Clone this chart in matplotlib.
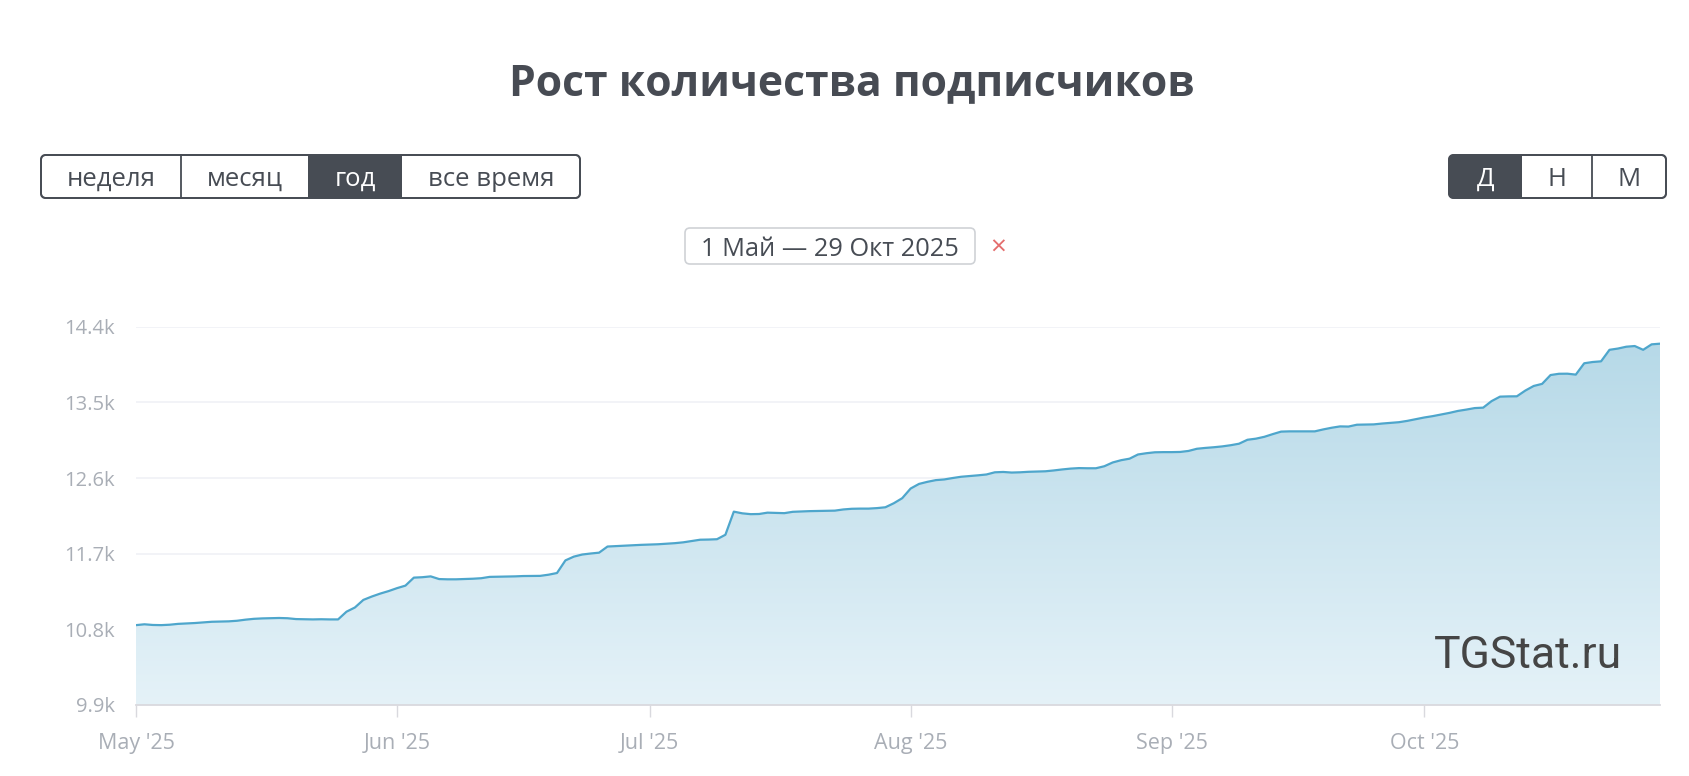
import numpy as np
import matplotlib
matplotlib.use("Agg")
import matplotlib.pyplot as plt
import matplotlib.dates as mdates
from matplotlib import font_manager
from matplotlib.patches import FancyBboxPatch, Rectangle
from matplotlib.ticker import FixedLocator, FixedFormatter

# ---------------- data ----------------
start_date = "2025-05-01"
end_date = "2025-10-29"

subscribers_may = [10850, 10860, 10852, 10850, 10855, 10865, 10870, 10875, 10882, 10890,
                   10892, 10895, 10902, 10915, 10925, 10930, 10932, 10935, 10932, 10922,
                   10920, 10918, 10920, 10918, 10918, 11010, 11060, 11150, 11190, 11225,
                   11255]
subscribers_jun = [11290, 11320, 11415, 11420, 11430, 11398, 11395, 11395, 11398, 11402,
                   11408, 11424, 11426, 11428, 11430, 11434, 11435, 11436, 11450, 11470,
                   11620, 11665, 11690, 11702, 11712, 11785, 11790, 11795, 11800, 11805]
subscribers_jul = [11808, 11812, 11818, 11825, 11835, 11850, 11866, 11868, 11872, 11925,
                   12200, 12180, 12170, 12172, 12188, 12185, 12182, 12198, 12202, 12206,
                   12208, 12210, 12212, 12226, 12234, 12236, 12236, 12242, 12252, 12300,
                   12360]
subscribers_aug = [12475, 12530, 12555, 12575, 12583, 12600, 12615, 12623, 12632, 12642,
                   12668, 12672, 12665, 12668, 12674, 12677, 12680, 12690, 12702, 12712,
                   12718, 12716, 12716, 12740, 12785, 12812, 12830, 12880, 12895, 12906,
                   12908]
subscribers_sep = [12908, 12910, 12922, 12948, 12958, 12966, 12976, 12990, 13008, 13055,
                   13068, 13090, 13122, 13152, 13155, 13155, 13155, 13155, 13178, 13198,
                   13214, 13212, 13234, 13236, 13238, 13248, 13256, 13264, 13280, 13300]
subscribers_oct = [13320, 13336, 13355, 13375, 13398, 13414, 13432, 13437, 13515, 13568,
                   13571, 13572, 13640, 13695, 13720, 13825, 13840, 13841, 13830, 13965,
                   13980, 13988, 14125, 14140, 14162, 14170, 14125, 14190, 14198]

y_ticks = [9900, 10800, 11700, 12600, 13500, 14400]
y_tick_labels = ["9.9k", "10.8k", "11.7k", "12.6k", "13.5k", "14.4k"]
month_ticks = ["2025-05-01", "2025-06-01", "2025-07-01", "2025-08-01", "2025-09-01", "2025-10-01"]
month_labels = ["May '25", "Jun '25", "Jul '25", "Aug '25", "Sep '25", "Oct '25"]

title_text = "Рост количества подписчиков"
period_buttons = ["неделя", "месяц", "год", "все время"]
active_period = "год"
granularity_buttons = ["Д", "Н", "М"]
active_granularity = "Д"
date_range_text = "1 Май — 29 Окт 2025"
watermark_text = "TGStat.ru"

# ---------------- setup ----------------
subscribers = np.array(subscribers_may + subscribers_jun + subscribers_jul +
                       subscribers_aug + subscribers_sep + subscribers_oct, dtype=float)
dates = np.arange(np.datetime64(start_date), np.datetime64(end_date) + 1)
assert len(dates) == len(subscribers)

UI_FONT = ["Open Sans", "DejaVu Sans"]
names = {f.name for f in font_manager.fontManager.ttflist}
WM_FONT = ["Roboto"] if "Roboto" in names else ["Liberation Sans"]

DARK = "#474c54"
W, H = 1690, 776
fig = plt.figure(figsize=(W / 100, H / 100), dpi=100)
fig.patch.set_facecolor("white")

# overlay axes in pixel coordinates for the page chrome
ov = fig.add_axes([0, 0, 1, 1], zorder=0)
ov.set_xlim(0, W)
ov.set_ylim(H, 0)
ov.axis("off")

# main chart axes
px_left, px_right, px_top, px_bottom = 136, 1660, 326.7, 705
ax = fig.add_axes([px_left / W, 1 - px_bottom / H, (px_right - px_left) / W,
                   (px_bottom - px_top) / H], zorder=1)
ax.set_facecolor("none")

ymin, ymax = y_ticks[0], y_ticks[-1]

# gridlines
for yv in y_ticks[1:]:
    ax.axhline(yv, color="#f0f1f6", lw=1.2, zorder=0)

# gradient area fill
fill = ax.fill_between(dates, subscribers, ymin, facecolor="none", edgecolor="none", zorder=1)
x0 = mdates.date2num(dates[0])
x1 = mdates.date2num(dates[-1])
top_c = np.array([180, 216, 231]) / 255.0
bot_c = np.array([229, 242, 248]) / 255.0
g = np.linspace(0, 1, 300).reshape(-1, 1, 1)
img = top_c.reshape(1, 1, 3) * (1 - g) + bot_c.reshape(1, 1, 3) * g
im = ax.imshow(img, extent=[x0, x1, ymin, ymax], origin="upper", aspect="auto",
               zorder=1, interpolation="bilinear")
im.set_clip_path(fill.get_paths()[0], transform=ax.transData)

# line
ax.plot(dates, subscribers, color="#4ea6cc", lw=1.6, zorder=3, solid_joinstyle="round")

ax.set_xlim(x0, x1)
ax.set_ylim(ymin, ymax)

# axes styling
for s in ["top", "right", "left"]:
    ax.spines[s].set_visible(False)
ax.spines["bottom"].set_color("#d9d9de")
ax.spines["bottom"].set_linewidth(1.3)
ax.spines["bottom"].set_zorder(4)

ax.yaxis.set_major_locator(FixedLocator(y_ticks))
ax.yaxis.set_major_formatter(FixedFormatter(y_tick_labels))
ax.tick_params(axis="y", length=0, pad=15, labelsize=14.5, labelcolor="#a9aeb6")

month_nums = [mdates.date2num(np.datetime64(m)) for m in month_ticks]
ax.xaxis.set_major_locator(FixedLocator(month_nums))
ax.xaxis.set_major_formatter(FixedFormatter(month_labels))
ax.tick_params(axis="x", length=8.5, width=1, color="#d9d9de", pad=12,
               labelsize=15.5, labelcolor="#a9aeb6")
for lbl in ax.get_xticklabels() + ax.get_yticklabels():
    lbl.set_fontfamily(UI_FONT)

# watermark
ax.text(0.975, 0.098, watermark_text, transform=ax.transAxes, ha="right", va="baseline",
        fontsize=32, fontweight="normal", color="#454545", family=WM_FONT, zorder=5)

# ---------------- chrome ----------------
ov.text(852, 84, title_text, ha="center", va="center", fontsize=30.7,
        fontweight="bold", color="#474b53", family=UI_FONT)


def button_group(x_left, x_right, y_top, y_bot, labels, active, edges):
    box = FancyBboxPatch((x_left, y_top), x_right - x_left, y_bot - y_top,
                         boxstyle="round,pad=0,rounding_size=5", fc="white",
                         ec=DARK, lw=1.3, zorder=1)
    ov.add_patch(box)
    for i, lab in enumerate(labels):
        a, b = edges[i], edges[i + 1]
        if lab == active:
            r = Rectangle((a, y_top), b - a, y_bot - y_top, fc=DARK, ec="none", zorder=2)
            ov.add_patch(r)
            r.set_clip_path(box)
        elif i > 0 and labels[i - 1] != active:
            ov.plot([a, a], [y_top, y_bot], color=DARK, lw=1.3, zorder=2)
        ov.text((a + b) / 2, (y_top + y_bot) / 2 + 3, lab, ha="center", va="center",
                fontsize=18.5, color="white" if lab == active else DARK,
                family=UI_FONT, zorder=3)
    # outline on top
    ov.add_patch(FancyBboxPatch((x_left, y_top), x_right - x_left, y_bot - y_top,
                                boxstyle="round,pad=0,rounding_size=5", fc="none",
                                ec=DARK, lw=1.3, zorder=4))


button_group(41, 580, 155, 198, period_buttons, active_period, [41, 181, 308, 402, 580])
button_group(1449, 1666, 155, 198, granularity_buttons, active_granularity,
             [1449, 1522, 1592, 1666])

# date range chip
ov.add_patch(FancyBboxPatch((685, 228), 290, 36, boxstyle="round,pad=0,rounding_size=5",
                            fc="white", ec="#cfd2d6", lw=1.2))
ov.text(830, 249, date_range_text, ha="center", va="center", fontsize=18.3,
        color=DARK, family=UI_FONT)
ov.text(998, 249, "×", ha="center", va="center", fontsize=20, color="#e46d6d",
        family=UI_FONT)

fig.savefig("out.png", dpi=100, facecolor="white")
